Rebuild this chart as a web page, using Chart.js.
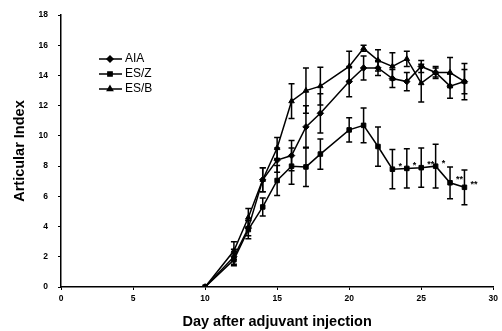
<!DOCTYPE html>
<html>
<head>
<meta charset="utf-8">
<script src="https://cdn.jsdelivr.net/npm/chart.js@4"></script>
<style>
  html, body { margin: 0; padding: 0; background: #fff; }
  #wrap { width: 502px; height: 331px; }
</style>
</head>
<body>
<div id="wrap"><canvas id="artChart"></canvas></div>
<script>
var days = [10, 12, 13, 14, 15, 16, 17, 18, 20, 21, 22, 23, 24, 25, 26, 27, 28];
var aia  = [0, 2.0, 3.9, 7.1, 8.4, 8.7, 10.6, 11.5, 13.6, 14.5, 14.5, 13.8, 13.6, 14.6, 14.2, 13.3, 13.6];
var esz  = [0, 1.8, 3.8, 5.3, 7.05, 8.0, 7.95, 8.8, 10.4, 10.7, 9.3, 7.8, 7.85, 7.9, 8.0, 6.9, 6.6];
var esb  = [0, 2.4, 4.6, 7.1, 9.2, 12.3, 13.0, 13.3, 14.6, 15.8, 15.0, 14.6, 15.1, 13.5, 14.2, 14.2, 13.6];
var aiaErr = [0, 0.5, 0.5, 0.8, 0.8, 1.0, 1.4, 1.3, 1.0, 0.8, 0.5, 0.6, 0.6, 0.4, 0.4, 0.8, 0.8];
var eszErr = [0, 0.4, 0.6, 0.6, 1.0, 1.2, 1.3, 1.0, 0.8, 1.15, 1.3, 1.3, 1.3, 1.3, 1.45, 1.05, 1.15];
var esbErr = [0, 0.6, 0.6, 0.8, 0.7, 1.15, 1.5, 1.25, 1.0, 0.2, 0.7, 0.9, 0.5, 1.25, 0.3, 1.0, 1.2];
var eszStars = ['', '', '', '', '', '', '', '', '', '', '', '*', '*', '**', '*', '**', '**'];
var xTicks = [0, 5, 10, 15, 20, 25, 30];
var yTicks = [0, 2, 4, 6, 8, 10, 12, 14, 16, 18];

function pts(vals) {
  return days.map(function (d, i) { return { x: d, y: vals[i] }; });
}

var tickFont = { family: 'Liberation Sans', size: 8.5, weight: 'bold' };

var errorBars = {
  id: 'errorBars',
  afterDatasetsDraw: function (chart) {
    var ctx = chart.ctx;
    var xs = chart.scales.x, ys = chart.scales.y;
    var errs = [aiaErr, eszErr, esbErr];
    ctx.save();
    ctx.strokeStyle = '#000';
    ctx.lineWidth = 1.5;
    chart.data.datasets.forEach(function (ds, k) {
      ds.data.forEach(function (p, i) {
        var e = errs[k][i];
        if (!e) return;
        var px = xs.getPixelForValue(p.x);
        var top = ys.getPixelForValue(p.y + e);
        var bot = ys.getPixelForValue(p.y - e);
        ctx.beginPath();
        ctx.moveTo(px, top); ctx.lineTo(px, bot);
        ctx.moveTo(px - 3, top); ctx.lineTo(px + 3, top);
        ctx.moveTo(px - 3, bot); ctx.lineTo(px + 3, bot);
        ctx.stroke();
      });
    });
    // significance marks next to ES/Z
    ctx.fillStyle = '#000';
    ctx.font = 'bold 9px "Liberation Sans"';
    ctx.textAlign = 'left';
    ctx.textBaseline = 'middle';
    days.forEach(function (d, i) {
      if (!eszStars[i]) return;
      ctx.fillText(eszStars[i], xs.getPixelForValue(d) + 6, ys.getPixelForValue(esz[i]) - 3);
    });
    ctx.restore();
  },
  afterDraw: function (chart) {
    var ctx = chart.ctx;
    var items = [['AIA', 'rectRot'], ['ES/Z', 'rect'], ['ES/B', 'triangle']];
    ctx.save();
    ctx.strokeStyle = '#000';
    ctx.fillStyle = '#000';
    ctx.lineWidth = 1.5;
    ctx.font = '12px "Liberation Sans"';
    ctx.textBaseline = 'middle';
    items.forEach(function (it, i) {
      var y = 59 + i * 15;
      ctx.beginPath();
      ctx.moveTo(99, y); ctx.lineTo(122, y);
      ctx.stroke();
      Chart.helpers.drawPoint(ctx, { pointStyle: it[1], radius: 3, rotation: 0, borderWidth: 1 }, 110, y);
      ctx.fillText(it[0], 125, y);
    });
    ctx.restore();
  }
};

function ds(label, vals, style) {
  return {
    label: label,
    data: pts(vals),
    borderColor: '#000',
    backgroundColor: '#000',
    borderWidth: 1.5,
    pointStyle: style,
    pointRadius: 3.2,
    pointBorderWidth: 1,
    tension: 0
  };
}

new Chart('artChart', {
  type: 'line',
  data: {
    datasets: [ds('AIA', aia, 'rectRot'), ds('ES/Z', esz, 'rect'), ds('ES/B', esb, 'triangle')]
  },
  plugins: [errorBars],
  options: {
    responsive: true,
    maintainAspectRatio: false,
    animation: false,
    layout: { padding: { top: 11, right: 5, left: 0, bottom: 0 } },
    plugins: { legend: { display: false }, tooltip: { enabled: false } },
    scales: {
      x: {
        type: 'linear',
        min: 0, max: 30,
        afterBuildTicks: function (s) { s.ticks = xTicks.map(function (v) { return { value: v }; }); },
        afterFit: function (s) { s.height = 44; },
        border: { color: '#000', width: 1.5 },
        grid: { drawOnChartArea: false, color: '#000', tickLength: 3 },
        ticks: { color: '#000', font: tickFont, padding: 4, maxRotation: 0 },
        title: {
          display: true, text: 'Day after adjuvant injection', color: '#000',
          font: { family: 'Liberation Sans', size: 14.5, weight: 'bold' },
          padding: { top: 4, bottom: 0 }
        }
      },
      y: {
        min: 0, max: 18,
        afterBuildTicks: function (s) { s.ticks = yTicks.map(function (v) { return { value: v }; }); },
        afterFit: function (s) { s.width = 61; },
        border: { color: '#000', width: 1.5 },
        grid: { drawOnChartArea: false, color: '#000', tickLength: 3 },
        ticks: { color: '#000', font: tickFont, padding: 10 },
        title: {
          display: true, text: 'Articular Index', color: '#000',
          font: { family: 'Liberation Sans', size: 14.5, weight: 'bold' },
          padding: { top: 11, bottom: 0 }
        }
      }
    }
  }
});
</script>
</body>
</html>
